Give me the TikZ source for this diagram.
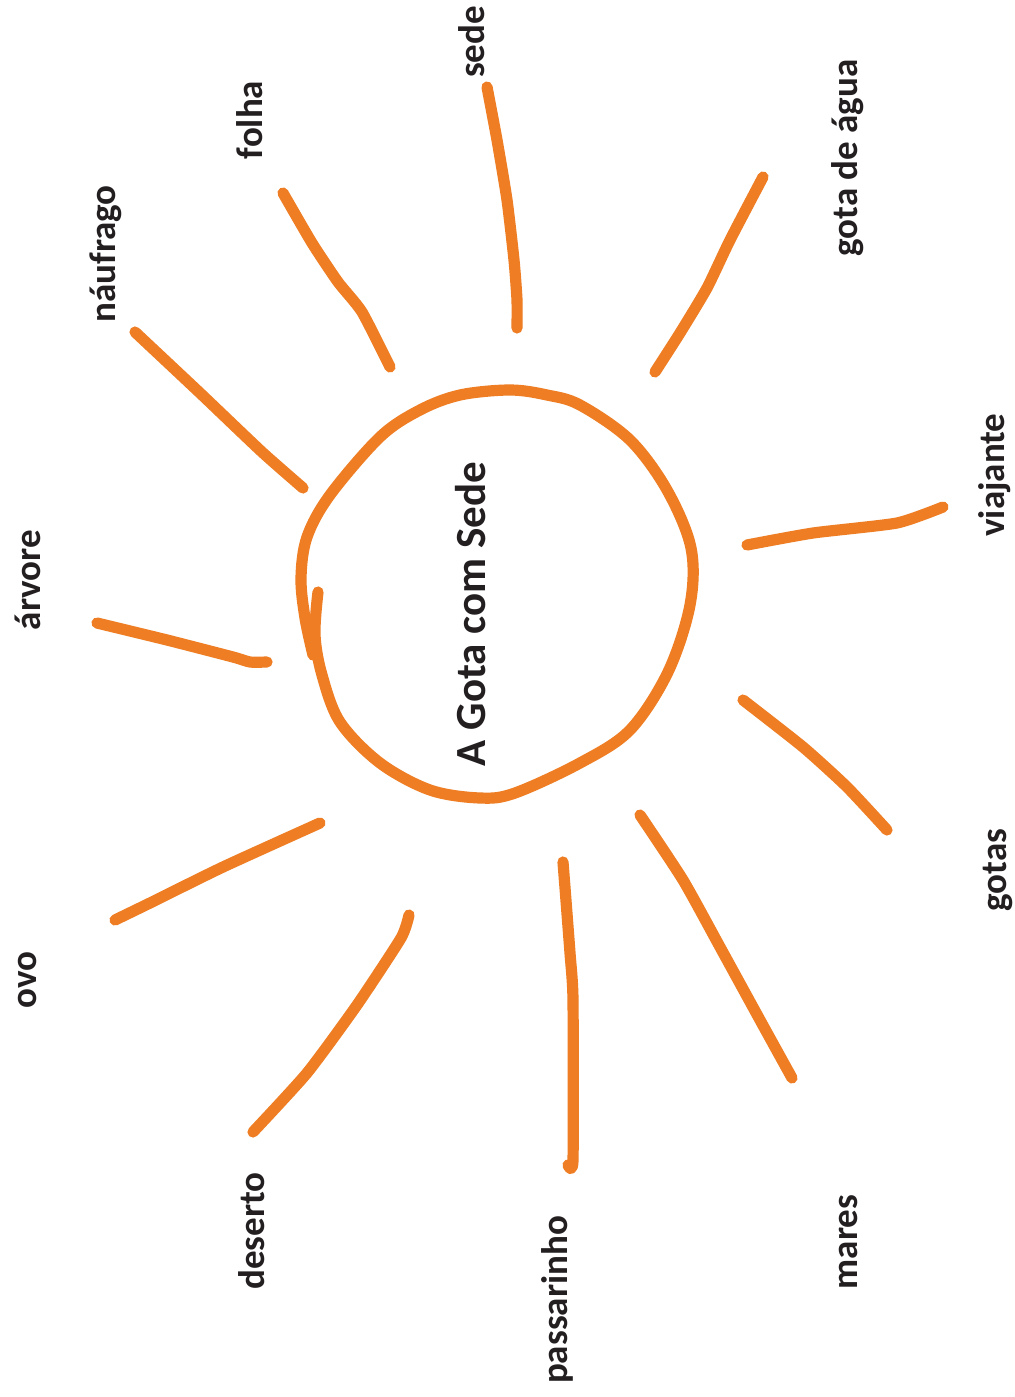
\documentclass[tikz,border=0pt]{standalone}
\usepackage{fontspec}
\setmainfont{Carlito}
\definecolor{sunorange}{RGB}{238,125,35}
\definecolor{ink}{RGB}{35,31,32}
\begin{document}
\begin{tikzpicture}[x=0.5pt,y=-0.5pt,
  ray/.style={draw=sunorange,line width=5.6pt,line cap=round,line join=round},
  lbl/.style={rotate=90,font=\bfseries\fontsize{18.5}{20}\selectfont,text=ink,inner sep=0pt},
  titlelbl/.style={rotate=90,font=\bfseries\fontsize{21.5}{24}\selectfont,text=ink,inner sep=0pt}]
\useasboundingbox (0,0) rectangle (1015,1397);
\fill[white] (0,0) rectangle (1015,1397);
% sun body
\draw[ray] plot[smooth,tension=0.55] coordinates {(318,592) (315,635) (322,675) (340,722) (380,763) (430,790) (480,798) (515,793) (580,763) (630,730) (668,672) (690,605) (691,548) (667,490) (630,440) (580,405) (547,395) (510,390) (460,395) (420,410) (380,437) (330,495) (307,537) (301,578) (305,618) (313,655)};
\node[titlelbl] (title) at (471,614) {A Gota com Sede};
% rays
\draw[ray] plot[smooth,tension=0.35] coordinates {(487,87) (497,140) (507,200) (514,260) (517,300) (517,328)};
\draw[ray] plot[smooth,tension=0.35] coordinates {(283,193) (312,243) (338,282) (362,312) (390,367)};
\draw[ray] plot[smooth,tension=0.35] coordinates {(135,332) (200,393) (262,452) (303,488)};
\draw[ray] plot[smooth,tension=0.35] coordinates {(97,623) (167,640) (233,657) (250,662) (267,662)};
\draw[ray] plot[smooth,tension=0.35] coordinates {(320,823) (223,867) (150,903) (115,920)};
\draw[ray] plot[smooth,tension=0.35] coordinates {(409,915) (401,938) (357,1005) (307,1073) (253,1132)};
\draw[ray] plot[smooth,tension=0.35] coordinates {(563,862) (570,953) (573,1000) (573,1160) (568,1165)};
\draw[ray] plot[smooth,tension=0.35] coordinates {(640,815) (683,880) (720,947) (760,1020) (792,1078)};
\draw[ray] plot[smooth,tension=0.35] coordinates {(743,700) (803,747) (847,787) (887,830)};
\draw[ray] plot[smooth,tension=0.35] coordinates {(747,545) (813,533) (897,523) (943,507)};
\draw[ray] plot[smooth,tension=0.35] coordinates {(763,177) (730,240) (707,288) (680,333) (655,372)};
% labels
\node[lbl] (sede) at (472,42) {sede};
\node[lbl] (folha) at (250,120) {folha};
\node[lbl] (naufrago) at (106,254) {náufrago};
\node[lbl] (gota) at (848,158) {gota de água};
\node[lbl] (viajante) at (995,475) {viajante};
\node[lbl] (arvore) at (28,580) {árvore};
\node[lbl] (ovo) at (28,980) {ovo};
\node[lbl] (gotas) at (998,870) {gotas};
\node[lbl] (deserto) at (252,1231) {deserto};
\node[lbl] (passarinho) at (557,1300) {passarinho};
\node[lbl] (mares) at (848,1242) {mares};
\end{tikzpicture}
\end{document}
